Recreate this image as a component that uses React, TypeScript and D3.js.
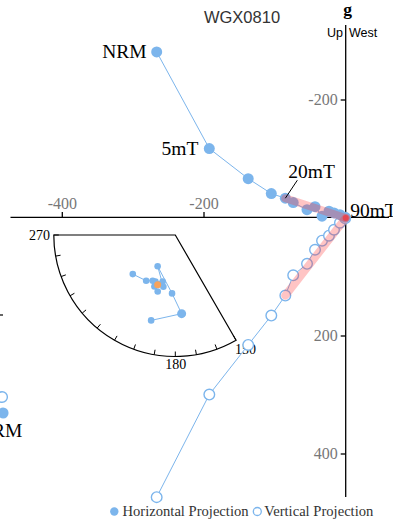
import React from "react";
import * as d3 from "d3";

// ---- data ----
const stepLabels = ["NRM", "5mT", "", "", "20mT", "", "", "", "", "", "", "", "90mT"];
const eastValues = [-266.8, -192.5, -137.6, -105.0, -85.2, -74.1, -54.6, -43.3, -33.4, -23.6, -16.5, -8.1, -0.7];
const northValues = [-281.5, -117.7, -66.7, -41.4, -33.5, -26.2, -14.1, -19.2, -3.1, -11.5, -8.5, -5.6, -1.4];
const upValues = [473.1, 299.2, 215.1, 165.4, 131.4, 97.1, 77.6, 53.8, 38.5, 30.0, 19.9, 8.0, 0.3];
const fitStart = 4; // PCA fit from 20mT to 90mT, anchored at origin
const xTicks = [-400, -200];
const yTicks = [-200, 200, 400];
// clipped point pair at the left edge
const edgeEast = [-485];
const edgeNorth = [330.5];
const edgeUp = [303.4];
const edgeLabels = ["NRM"];
// stereonet inset (declination, inclination)
const stereoDec = [195.8, 175.4, 183.2, 209.5, 193.0, 195.2, 203.2, 202.1, 197.3, 206.3, 212.5, 227.4];
const stereoInc = [27.8, 35.3, 50.2, 65.9, 54.0, 57.4, 55.8, 52.3, 49.7, 55.4, 53.2, 50.7];
const meanDec = [199.5];
const meanInc = [54.2];
const stereoTickLabels = [270, 180, 150];

const BLUE = "#7cb5ec";
const SERIF = "'Liberation Serif', 'Times New Roman', serif";
const SANS = "'Liberation Sans', Arial, sans-serif";

export default function App() {
  const W = 393, H = 523;
  const x = d3.scaleLinear().domain([-400, 0]).range([62.3, 345.7]);
  const y = d3.scaleLinear().domain([-200, 400]).range([100, 454]);
  const x0 = x(0), y0 = y(0);

  const hPts = eastValues.map((e, i) => [x(e), y(northValues[i])] as [number, number]);
  const vPts = eastValues.map((e, i) => [x(e), y(upValues[i])] as [number, number]);
  const line = d3.line();

  // stereonet
  const cx = 175.3, cy = 235, R = 121.5;
  const rScale = d3.scaleLinear().domain([0, 1]).range([0, R]);
  const proj = (dec: number, inc: number): [number, number] => {
    const r = rScale(Math.sqrt(1 - Math.sin((Math.abs(inc) * Math.PI) / 180)));
    const a = (dec * Math.PI) / 180;
    return [cx + r * Math.sin(a), cy - r * Math.cos(a)];
  };
  const polar = (deg: number, r: number): [number, number] => {
    const a = (deg * Math.PI) / 180;
    return [cx + r * Math.sin(a), cy - r * Math.cos(a)];
  };
  const arc = d3.arc()({
    innerRadius: 0,
    outerRadius: R,
    startAngle: (150 * Math.PI) / 180,
    endAngle: (270 * Math.PI) / 180,
  } as any) as string;
  const stereoPts = stereoDec.map((d, i) => proj(d, stereoInc[i]));
  const tickDegs = d3.range(150, 271, 10);

  return (
    <svg width={W} height={H} style={{ position: "absolute", left: 0, top: 0, background: "#fff" }}>
      {/* title */}
      <text x={242} y={23.3} textAnchor="middle" fontFamily={SANS} fontSize={16.5} fill="#333">WGX0810</text>
      <text x={347.5} y={14.5} textAnchor="middle" fontFamily={SERIF} fontSize={17.5} fontWeight="bold" fill="#000">g</text>
      <text x={343} y={37} textAnchor="end" fontFamily={SANS} fontSize={12.5} fill="#000">Up</text>
      <text x={349} y={37} textAnchor="start" fontFamily={SANS} fontSize={12.5} fill="#000">West</text>

      {/* axes */}
      <line x1={10.5} x2={389} y1={217.3} y2={217.3} stroke="#000" strokeWidth={1.3} />
      <line x1={x0} x2={x0} y1={25} y2={497} stroke="#000" strokeWidth={1.3} />
      {xTicks.map((t) => (
        <g key={"xt" + t}>
          <line x1={x(t)} x2={x(t)} y1={212} y2={217.3} stroke="#000" strokeWidth={1.3} />
          <text x={x(t)} y={209.3} textAnchor="middle" fontFamily={SERIF} fontSize={16} fill="#777">{t}</text>
        </g>
      ))}
      {yTicks.map((t) => (
        <g key={"yt" + t}>
          <line x1={x0 - 5} x2={x0} y1={y(t)} y2={y(t)} stroke="#000" strokeWidth={1.3} />
          <text x={x0 - 8} y={y(t) + 4.8} textAnchor="end" fontFamily={SERIF} fontSize={16} fill="#777">{t}</text>
        </g>
      ))}
      <line x1={0} x2={3} y1={315} y2={315} stroke="#000" strokeWidth={1.2} />

      {/* inset stereonet */}
      <path d={arc} transform={`translate(${cx},${cy})`} fill="#fff" stroke="#000" strokeWidth={1.2} />
      {tickDegs.map((d) => {
        const [ax, ay] = polar(d, R);
        const [bx, by] = polar(d, R - 5);
        return <line key={"st" + d} x1={ax} y1={ay} x2={bx} y2={by} stroke="#000" strokeWidth={1} />;
      })}
      <text x={50} y={240} textAnchor="end" fontFamily={SERIF} fontSize={14} fill="#000">{stereoTickLabels[0]}</text>
      <text x={polar(180, R)[0] + 0.5} y={369} textAnchor="middle" fontFamily={SERIF} fontSize={14} fill="#000">{stereoTickLabels[1]}</text>
      <text x={polar(150, R)[0] - 1} y={354} textAnchor="start" fontFamily={SERIF} fontSize={14} fill="#000">{stereoTickLabels[2]}</text>
      <path d={line(stereoPts) as string} fill="none" stroke={BLUE} strokeWidth={1} />
      {stereoPts.map((p, i) => (
        <circle key={"sp" + i} cx={p[0]} cy={p[1]} r={i === 1 ? 4.5 : 3.3} fill={BLUE} />
      ))}
      {meanDec.map((d, i) => {
        const p = proj(d, meanInc[i]);
        return <circle key={"mp" + i} cx={p[0]} cy={p[1]} r={3.5} fill="#f7a35c" />;
      })}

      {/* vertical projection */}
      <path d={line(vPts) as string} fill="none" stroke={BLUE} strokeWidth={1} />
      {vPts.map((p, i) => (
        <circle key={"vp" + i} cx={p[0]} cy={p[1]} r={5.3} fill="#fff" stroke={BLUE} strokeWidth={1.4} />
      ))}
      {/* horizontal projection */}
      <path d={line(hPts) as string} fill="none" stroke={BLUE} strokeWidth={1} />
      {hPts.map((p, i) => (
        <circle key={"hp" + i} cx={p[0]} cy={p[1]} r={5.5} fill={BLUE} />
      ))}

      {/* PCA fit bands */}
      <line x1={hPts[fitStart][0]} y1={hPts[fitStart][1]} x2={x0} y2={y0} stroke="rgba(255,60,60,0.3)" strokeWidth={8} strokeLinecap="round" />
      <line x1={vPts[fitStart][0]} y1={vPts[fitStart][1]} x2={x0} y2={y0} stroke="rgba(255,60,60,0.3)" strokeWidth={8} strokeLinecap="round" />
      <circle cx={x0} cy={y0} r={3} fill="rgba(255,40,40,0.6)" />

      {/* labels */}
      <text x={hPts[0][0] - 10} y={hPts[0][1] + 6.5} textAnchor="end" fontFamily={SERIF} fontSize={19.5} fill="#000">{stepLabels[0]}</text>
      <text x={hPts[1][0] - 11} y={hPts[1][1] + 6.5} textAnchor="end" fontFamily={SERIF} fontSize={19.5} fill="#000">{stepLabels[1]}</text>
      <line x1={hPts[4][0]} y1={hPts[4][1]} x2={hPts[4][0] + 12} y2={hPts[4][1] - 18} stroke="#000" strokeWidth={1} />
      <text x={hPts[4][0] + 3} y={hPts[4][1] - 20} textAnchor="start" fontFamily={SERIF} fontSize={19.5} fill="#000">{stepLabels[4]}</text>
      <text x={hPts[12][0] + 5} y={hPts[12][1] - 0.5} textAnchor="start" fontFamily={SERIF} fontSize={19.5} fill="#000">{stepLabels[12]}</text>

      {/* clipped edge points */}
      {edgeEast.map((e, i) => (
        <g key={"ep" + i}>
          <circle cx={x(e)} cy={y(edgeUp[i])} r={5.3} fill="#fff" stroke={BLUE} strokeWidth={1.4} />
          <circle cx={x(e) + 1} cy={y(edgeNorth[i])} r={5.5} fill={BLUE} />
          <text x={x(e) - 2} y={437} textAnchor="middle" fontFamily={SERIF} fontSize={19.5} fill="#000">{edgeLabels[i]}</text>
        </g>
      ))}

      {/* legend */}
      <circle cx={114.3} cy={511.5} r={4.2} fill={BLUE} />
      <text x={122.5} y={516} fontFamily={SERIF} fontSize={14.6} fill="#333">Horizontal Projection</text>
      <circle cx={257.3} cy={511.5} r={4} fill="#fff" stroke={BLUE} strokeWidth={1.3} />
      <text x={264.3} y={516} fontFamily={SERIF} fontSize={14.6} fill="#333">Vertical Projection</text>
    </svg>
  );
}
